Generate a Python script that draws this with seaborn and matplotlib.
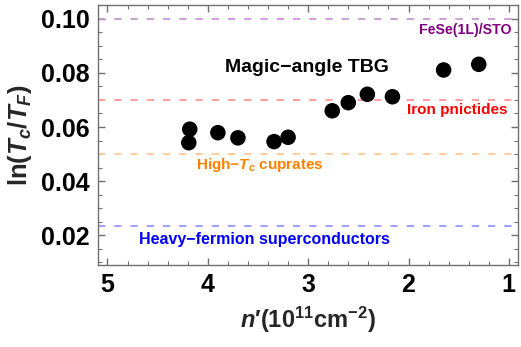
import numpy as np
import pandas as pd
import seaborn as sns
import matplotlib.pyplot as plt
from matplotlib.ticker import MultipleLocator

# dati
n_prime = [4.18, 4.19, 3.90, 3.70, 3.34, 3.20, 2.76, 2.60, 2.41, 2.16, 1.65, 1.30]
ln_ratio = [0.0592, 0.0542, 0.0579, 0.0560, 0.0546, 0.0562, 0.0660, 0.0690, 0.0721, 0.0712, 0.0811, 0.0832]

ref_levels = [0.100, 0.070, 0.050, 0.0233]
ref_names = ["FeSe(1L)/STO", "Iron pnictides", "High\u2212$T_c$ cuprates", "Heavy\u2212fermion superconductors"]
ref_line_colors = ["#c896d2", "#ff9696", "#ffc896", "#9696ff"]
ref_text_colors = ["#800080", "#ff0000", "#ff8000", "#0000ff"]
ref_text_x = [1.433, 1.513, 3.483, 3.433]
ref_text_y = [0.0959, 0.0663, 0.0459, 0.0185]
ref_text_size = [10.2, 11, 11, 11.5]

data = pd.DataFrame({"n": n_prime, "ln": ln_ratio})

sns.set_style("ticks")
plt.rcParams['font.family'] = ['Liberation Sans', 'DejaVu Sans']
plt.rcParams['font.weight'] = 'bold'
plt.rcParams['mathtext.fontset'] = 'custom'
plt.rcParams['mathtext.rm'] = 'Liberation Sans:bold'
plt.rcParams['mathtext.it'] = 'Liberation Sans:bold:italic'
plt.rcParams['mathtext.bf'] = 'Liberation Sans:bold'

fig = plt.figure(figsize=(5.21, 3.47), dpi=100)
ax = fig.add_axes([0.188, 0.236, 0.806, 0.750])

for lev, col in zip(ref_levels, ref_line_colors):
    ax.axhline(lev, color=col, lw=1.3, dashes=(4, 5), zorder=1)

sns.scatterplot(x="n", y="ln", data=data, ax=ax, s=125, color="black",
                edgecolor="none", zorder=3)

for name, tx, ty, col, fs in zip(ref_names, ref_text_x, ref_text_y, ref_text_colors, ref_text_size):
    ax.text(tx, ty, name, color=col, fontsize=fs, fontweight='bold',
            ha='center', va='center')
ax.text(3.015, 0.0819, "Magic\u2212angle TBG", color="black", fontsize=14,
        fontweight='bold', ha='center', va='center')

ax.set_xlim(5.095, 0.91)
ax.set_ylim(0.0089, 0.1052)
ax.xaxis.set_major_locator(MultipleLocator(1))
ax.xaxis.set_minor_locator(MultipleLocator(0.2))
ax.yaxis.set_major_locator(MultipleLocator(0.02))
ax.yaxis.set_minor_locator(MultipleLocator(0.005))
ax.yaxis.set_major_formatter(plt.FuncFormatter(lambda v, p: f"{v:.2f}"))

ax.tick_params(which='both', direction='in', top=True, right=True, color='#707070',
               labelsize=18, labelcolor='black', pad=6)
ax.tick_params(which='major', length=5, width=1)
ax.tick_params(which='minor', length=3, width=0.8)
for lab in ax.get_xticklabels() + ax.get_yticklabels():
    lab.set_fontweight('bold')
for sp in ax.spines.values():
    sp.set_color('#707070')
    sp.set_linewidth(1)

ax.set_xlabel("$n$\u2032(10$^{11}$cm$^{-2}$)", fontsize=17, fontweight='bold', labelpad=5)
ax.set_ylabel(r"ln$(T_c/T_F)$", fontsize=18.5, fontweight='bold', labelpad=5)

plt.savefig("out.png", dpi=100)
